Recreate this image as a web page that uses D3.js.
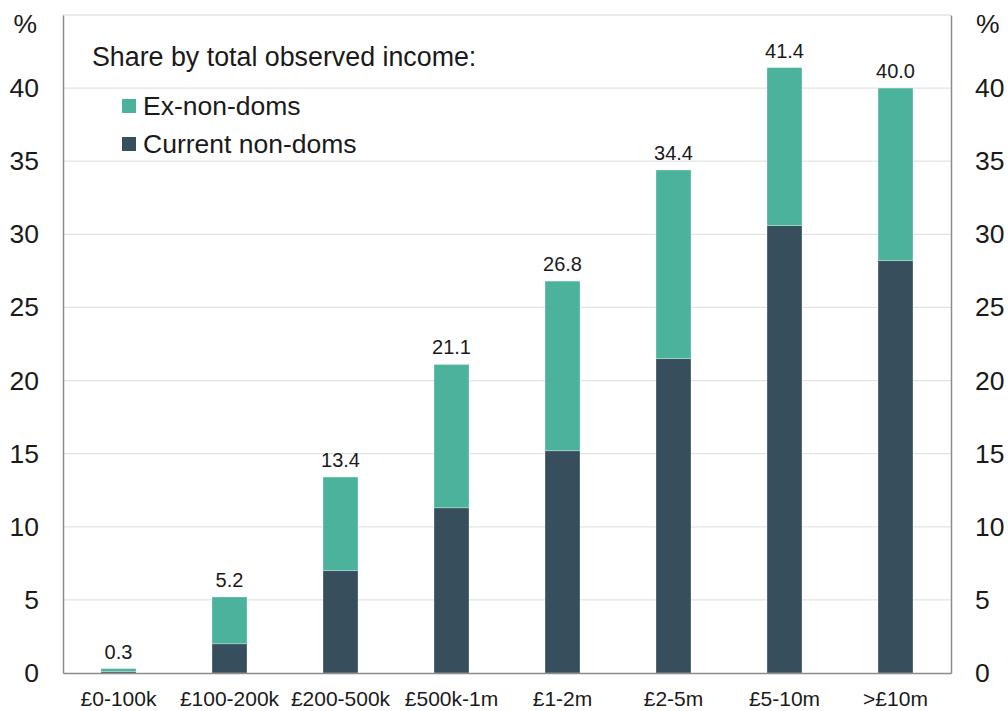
<!DOCTYPE html>
<html>
<head>
<meta charset="utf-8">
<script src="https://cdn.jsdelivr.net/npm/d3@7"></script>
<style>
  html, body { margin: 0; padding: 0; background: #ffffff; }
  svg { display: block; font-family: "Liberation Sans", Arial, sans-serif; }
</style>
</head>
<body>
<svg id="chart" width="1008" height="711"></svg>
<script>
// Income bands and the share (%) held by current and former non-doms
const bands = ["£0-100k", "£100-200k", "£200-500k", "£500k-1m", "£1-2m", "£2-5m", "£5-10m", ">£10m"];
const currentNonDoms = [0.1, 2.0, 7.0, 11.3, 15.2, 21.5, 30.6, 28.2];
const totalShare = [0.3, 5.2, 13.4, 21.1, 26.8, 34.4, 41.4, 40.0];
const exNonDoms = totalShare.map((t, i) => +(t - currentNonDoms[i]).toFixed(1));
const yTicks = [0, 5, 10, 15, 20, 25, 30, 35, 40, 45];
const yTickLabels = ["0", "5", "10", "15", "20", "25", "30", "35", "40", ""];
const seriesNames = ["Ex-non-doms", "Current non-doms"];

const colors = { current: "#374e5c", ex: "#4bb29c" };
const W = 1008, H = 711;
const margin = { top: 15, right: 57, bottom: 38, left: 63 };
const iw = W - margin.left - margin.right;
const ih = H - margin.top - margin.bottom;

const svg = d3.select("#chart");
const g = svg.append("g").attr("transform", `translate(${margin.left},${margin.top})`);

const x = d3.scaleBand().domain(bands).range([0, iw]).paddingInner(0.685).paddingOuter(0.3425);
const y = d3.scaleLinear().domain([0, 45]).range([ih, 0]);

// gridlines
g.append("g").selectAll("line").data(yTicks.filter(v => v > 0)).join("line")
  .attr("x1", 0).attr("x2", iw)
  .attr("y1", d => y(d)).attr("y2", d => y(d))
  .attr("stroke", "#e3e3e3").attr("stroke-width", 1.3);

// stacked bars
const rows = bands.map((b, i) => ({ band: b, current: currentNonDoms[i], ex: exNonDoms[i], total: totalShare[i] }));
const stack = d3.stack().keys(["current", "ex"])(rows);
g.append("g").selectAll("g").data(stack).join("g")
  .attr("fill", d => colors[d.key])
  .selectAll("rect").data(d => d).join("rect")
  .attr("x", d => x(d.data.band))
  .attr("width", x.bandwidth())
  .attr("y", d => y(d[1]))
  .attr("height", d => y(d[0]) - y(d[1]))
  .attr("stroke", "rgba(255,255,255,0.35)").attr("stroke-width", 0.8);

// total labels above bars
g.append("g").selectAll("text").data(rows).join("text")
  .attr("x", d => x(d.band) + x.bandwidth() / 2)
  .attr("y", d => y(d.total) - 10)
  .attr("text-anchor", "middle")
  .attr("font-size", 20).attr("fill", "#1a1a1a")
  .text(d => d.total.toFixed(1));

// axes
const axisColor = "#8c8c8c";
const left = g.append("g").call(d3.axisLeft(y).tickValues(yTicks).tickSize(0).tickPadding(24).tickFormat((d, i) => yTickLabels[i]));
const right = g.append("g").attr("transform", `translate(${iw},0)`)
  .call(d3.axisRight(y).tickValues(yTicks).tickSize(0).tickPadding(24).tickFormat((d, i) => yTickLabels[i]));
const bottom = g.append("g").attr("transform", `translate(0,${ih})`)
  .call(d3.axisBottom(x).tickSize(0).tickPadding(18));
[left, right, bottom].forEach(a => {
  a.select(".domain").attr("stroke", axisColor).attr("stroke-width", 1.5);
  a.selectAll("text").attr("fill", "#1a1a1a").attr("font-family", "Liberation Sans, Arial, sans-serif");
});
left.selectAll("text").attr("font-size", 26.5);
right.selectAll("text").attr("font-size", 26.5);
bottom.selectAll("text").attr("font-size", 21);

// unit labels
svg.append("text").attr("x", 37).attr("y", 33).attr("text-anchor", "end")
  .attr("font-size", 26.5).attr("fill", "#1a1a1a").text("%");
svg.append("text").attr("x", 976).attr("y", 33).attr("text-anchor", "start")
  .attr("font-size", 26.5).attr("fill", "#1a1a1a").text("%");

// legend
const leg = svg.append("g");
leg.append("text").attr("x", 92).attr("y", 66).attr("font-size", 26.8).attr("fill", "#1a1a1a")
  .text("Share by total observed income:");
const legItems = [{ name: seriesNames[0], color: colors.ex }, { name: seriesNames[1], color: colors.current }];
const li = leg.selectAll("g.item").data(legItems).join("g").attr("class", "item")
  .attr("transform", (d, i) => `translate(122,${99 + i * 38})`);
li.append("rect").attr("width", 14).attr("height", 14).attr("fill", d => d.color);
li.append("text").attr("x", 21).attr("y", 16).attr("font-size", 26.5).attr("fill", "#1a1a1a").text(d => d.name);
</script>
</body>
</html>
